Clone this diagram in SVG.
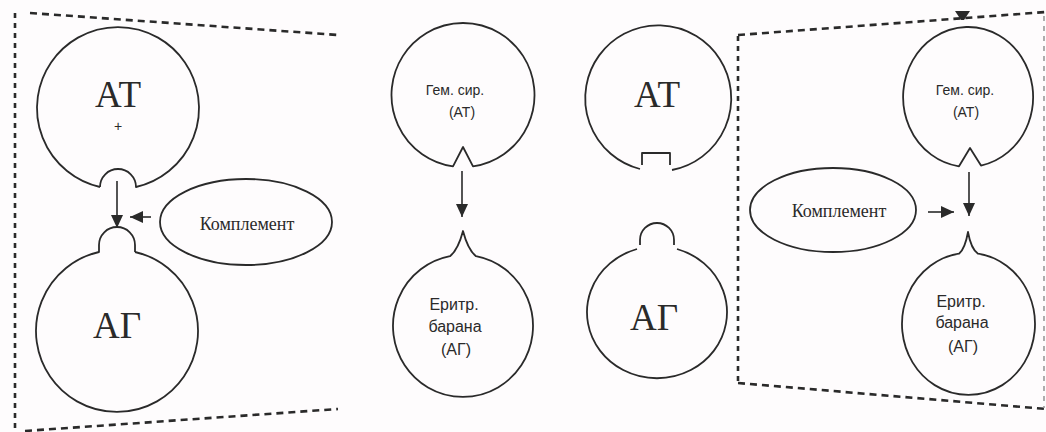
<svg xmlns="http://www.w3.org/2000/svg" width="1046" height="432" viewBox="0 0 1046 432">
<style>
.bg{fill:#fefcfd}
.sh{fill:none;stroke:#2a2a2a;stroke-width:1.8;stroke-linejoin:round}
.dash{fill:none;stroke:#2a2a2a;stroke-width:2.6;stroke-dasharray:7 5}
.dashv{fill:none;stroke:#2a2a2a;stroke-width:2.6;stroke-dasharray:5 5}
.dashl{fill:none;stroke:#9a9a9a;stroke-width:1.6;stroke-dasharray:5 5}
.ln{fill:none;stroke:#2a2a2a;stroke-width:1.6}
.big{font-family:"Liberation Serif","Times New Roman",serif;font-size:37px;fill:#2a2a2a;text-anchor:middle}
.ser{font-family:"Liberation Serif","Times New Roman",serif;font-size:18px;fill:#2a2a2a;text-anchor:middle}
.sm{font-family:"Liberation Sans",Arial,sans-serif;font-size:14px;fill:#2a2a2a;text-anchor:middle}
.md{font-family:"Liberation Sans",Arial,sans-serif;font-size:16px;fill:#2a2a2a;text-anchor:middle}
</style>
<defs>
<marker id="ah" markerUnits="userSpaceOnUse" markerWidth="13" markerHeight="12" refX="13" refY="6" orient="auto">
<path d="M0,0 L13,6 L0,12 Z" fill="#2a2a2a"/>
</marker>
</defs>
<rect class="bg" x="0" y="0" width="1046" height="432"/>

<g id="frame-left">
<path class="dashv" d="M15 13 L15 430"/>
<path class="dash" d="M30 13 L338 35"/>
<path class="dash" d="M25 431 L338 409"/>
</g>
<g id="frame-right">
<path class="dashv" d="M738 36 L738 383"/>
<path class="dash" d="M738 35 L1046 12"/>
<path class="dash" d="M738 383 L1046 409"/>
<path class="dashl" d="M1044 16 L1044 408"/>
</g>

<g id="p1-at">
<path class="sh" fill="#fefcfd" d="M100 187 A81 81 0 1 1 136 187 A18 18 0 0 0 100 187"/>
<text class="big" x="118" y="107">АТ</text>
<text class="sm" x="118" y="131">+</text>
</g>
<g id="p1-ag">
<path class="sh" d="M135 252 L135 245 A18 18 0 0 0 99 245 L99 252 A81 81 0 1 0 135 252"/>
<text class="big" x="117" y="338">АГ</text>
</g>
<g id="p1-complement">
<ellipse class="sh" cx="246" cy="222" rx="86" ry="43"/>
<text class="ser" x="247" y="230">Комплемент</text>
</g>

<g id="p2-hem">
<path class="sh" d="M453 166.3 A71.5 72 0 1 1 473 166.3 L463 147 Z"/>
<text class="sm" x="455" y="95">Гем. сир.</text>
<text class="sm" x="462" y="117">(АТ)</text>
</g>
<g id="p2-ery">
<path class="sh" d="M450 256.2 Q458 250 463 231 Q468 250 476 256.2 A70 71 0 1 1 450 256.2 Z"/>
<text class="md" x="454" y="310">Еритр.</text>
<text class="md" x="455" y="332">барана</text>
<text class="md" x="456" y="355">(АГ)</text>
</g>

<g id="p3-at">
<path class="sh" d="M640 169 A73 73 0 1 1 672 170"/>
<path class="sh" d="M642 165 L642 153 L670 153 L670 165"/>
<text class="big" x="657" y="107">АТ</text>
</g>
<g id="p3-ag">
<path class="sh" d="M637 249 A70 66 0 1 0 677 249"/>
<path class="sh" d="M640 245 L640 240 A17 17 0 0 1 674 240 L674 245"/>
<text class="big" x="654" y="330">АГ</text>
</g>
<g id="p3-hem">
<path class="sh" d="M959 166.3 A65 70 0 1 1 981 165.6 L970 148 Z"/>
<text class="sm" x="965" y="95">Гем. сир.</text>
<text class="sm" x="966" y="117">(АТ)</text>
</g>
<g id="p3-ery">
<path class="sh" d="M959 253.7 Q965 249 968 232 Q971 249 978 253.7 A66.5 71 0 1 1 959 253.7 Z"/>
<text class="md" x="961" y="307">Еритр.</text>
<text class="md" x="962" y="328">барана</text>
<text class="md" x="963" y="352">(АГ)</text>
</g>
<g id="p3-complement">
<ellipse class="sh" cx="833" cy="210" rx="83" ry="42"/>
<text class="ser" x="839" y="217">Комплемент</text>
</g>

<g id="connectors">
<line class="ln" x1="117" y1="181" x2="117" y2="228" marker-end="url(#ah)"/>
<line class="ln" x1="151" y1="217" x2="130" y2="217" marker-end="url(#ah)"/>
<line class="ln" x1="462" y1="171" x2="462" y2="217" marker-end="url(#ah)"/>
<line class="ln" x1="969" y1="172" x2="969" y2="216" marker-end="url(#ah)"/>
<line class="ln" x1="928" y1="212" x2="954" y2="212" marker-end="url(#ah)"/>
<path d="M955 11 L970 11 L964 20 L961 20 Z" fill="#2a2a2a"/>
</g>
</svg>
